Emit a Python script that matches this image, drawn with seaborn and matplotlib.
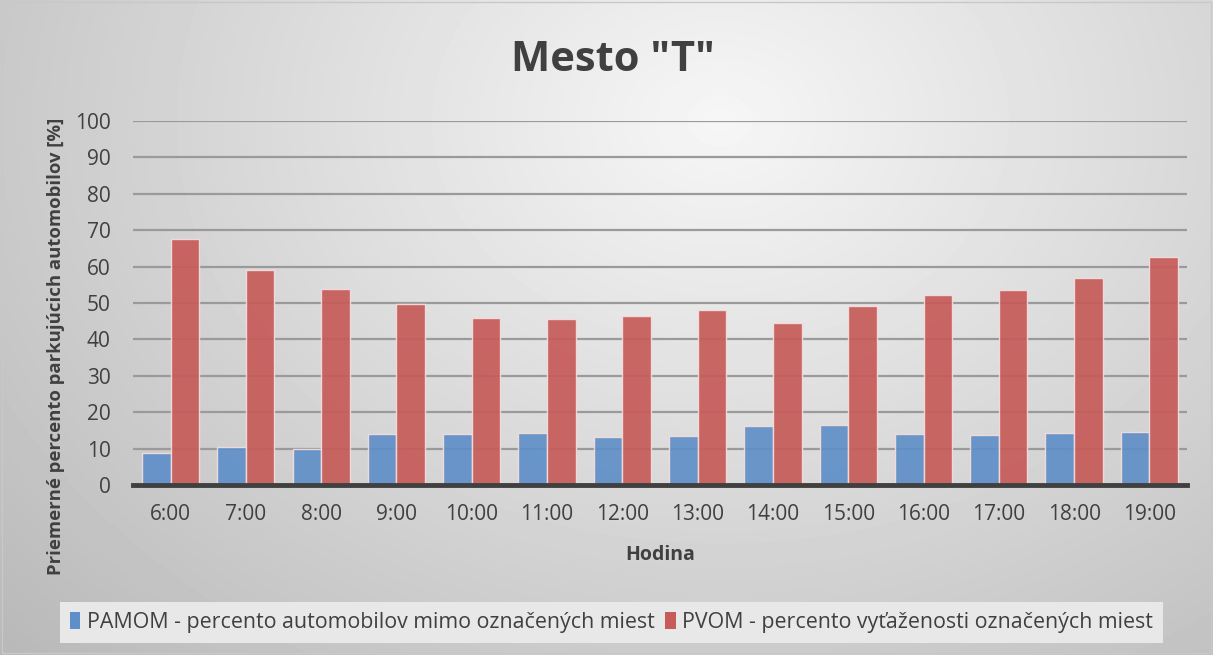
import numpy as np
import pandas as pd
import matplotlib
matplotlib.use("Agg")
import matplotlib.pyplot as plt
import seaborn as sns
from matplotlib.patches import Patch

hours = ["6:00", "7:00", "8:00", "9:00", "10:00", "11:00", "12:00",
         "13:00", "14:00", "15:00", "16:00", "17:00", "18:00", "19:00"]
pamom = [8.9, 10.5, 9.9, 14.0, 14.0, 14.4, 13.2, 13.6, 16.2, 16.6, 14.0, 13.8, 14.4, 14.5]
pvom = [67.7, 59.2, 53.9, 49.6, 46.0, 45.7, 46.5, 48.0, 44.6, 49.3, 52.1, 53.7, 56.9, 62.5]
series_names = ["PAMOM - percento automobilov mimo označených miest",
                "PVOM - percento vyťaženosti označených miest"]
title = 'Mesto "T"'
xlabel = "Hodina"
ylabel = "Priemerné percento parkujúcich automobilov [%]"

df = pd.DataFrame({
    "Hodina": hours * 2,
    "value": pamom + pvom,
    "series": [series_names[0]] * len(hours) + [series_names[1]] * len(hours),
})

sns.set_theme(style="white")
plt.rcParams["font.family"] = ["Open Sans", "DejaVu Sans"]

colors = ["#5f8fc8", "#c65b59"]

fig = plt.figure(figsize=(12.13, 6.55), dpi=100)

# gradient background
bg = fig.add_axes([0, 0, 1, 1], zorder=-10)
yy, xx = np.mgrid[0:655, 0:1213]
d = np.sqrt(((xx - 720) / 900.0) ** 2 + ((yy - 120) / 700.0) ** 2)
val = 0.965 - 0.22 * np.clip(d, 0, 1.2)
bg.imshow(val, cmap="gray", vmin=0, vmax=1, aspect="auto", extent=[0, 1, 0, 1])
bg.axis("off")
bg.add_patch(plt.Rectangle((0.002, 0.003), 0.996, 0.994, fill=False,
                           edgecolor="#c8c8c8", lw=1, transform=bg.transAxes))

ax = fig.add_axes([0.1096, 0.2595, 0.8690, 0.5558])
ax.set_facecolor("none")
sns.barplot(data=df, x="Hodina", y="value", hue="series", palette=colors,
            width=0.76, ax=ax, legend=False, alpha=0.92,
            edgecolor="#f4dede", linewidth=1.0, saturation=1)
for p in ax.patches:
    p.set_zorder(3)

ax.set_ylim(0, 100)
ax.set_yticks(range(0, 101, 10))
ax.yaxis.grid(True, color="#9a9a9a", lw=1.6, zorder=0)
ax.set_axisbelow(True)
for s in ["top", "right", "left"]:
    ax.spines[s].set_visible(False)
ax.spines["bottom"].set_color("#404040")
ax.spines["bottom"].set_linewidth(3.5)
ax.spines["bottom"].set_zorder(5)
ax.tick_params(axis="both", length=0, labelsize=15, colors="#404040")
ax.tick_params(axis="x", pad=14)
ax.tick_params(axis="y", pad=16)
ax.set_xlabel(xlabel, fontsize=14, fontweight="bold", color="#404040", labelpad=14)
ax.set_ylabel(ylabel, fontsize=13.3, fontweight="bold", color="#404040")
ax.yaxis.set_label_coords(-0.064, 0.38)

fig.text(0.505, 0.907, title, ha="center", va="center", fontsize=30,
         fontweight="bold", color="#404040")

handles = [Patch(facecolor=c, edgecolor="none") for c in colors]
leg = fig.legend(handles, series_names, loc="center", bbox_to_anchor=(0.504, 0.050),
                 ncol=2, frameon=True, fontsize=15.4, handlelength=0.5,
                 handleheight=0.9, handletextpad=0.3, columnspacing=0.5,
                 borderpad=0.45, fancybox=False)
leg.get_frame().set_facecolor("#e8e8e8")
leg.get_frame().set_edgecolor("none")
leg.get_frame().set_alpha(1)
for t in leg.get_texts():
    t.set_color("#404040")

fig.savefig("out.png", dpi=100)
